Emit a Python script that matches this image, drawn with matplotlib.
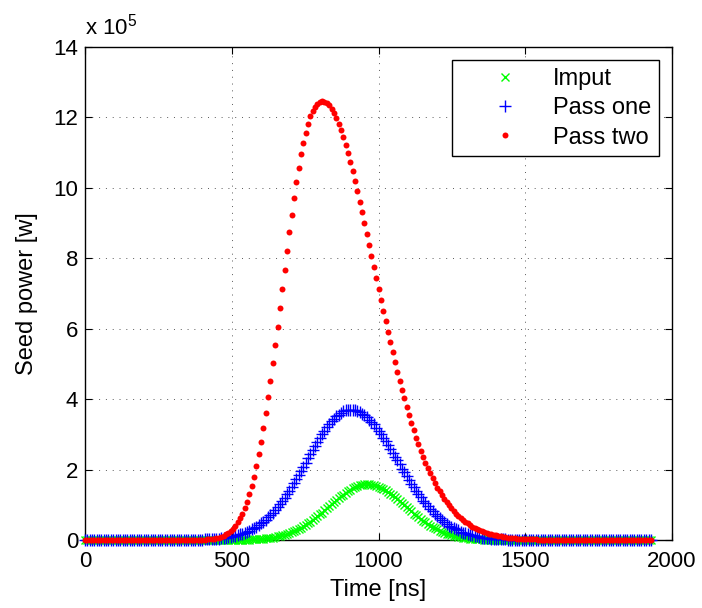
import numpy as np
import matplotlib
matplotlib.use("Agg")
import matplotlib.pyplot as plt

# ---------------------------------------------------------------------------
# data: seed power (in units of 1e5 W), one sample every 8 ns
# each row below = 10 samples = 80 ns, comment gives the start time
# ---------------------------------------------------------------------------
time_ns = np.arange(0, 1929, 8)

imput = [
    0, 0, 0, 0, 0, 0, 0, 0, 0, 0,                                  # 0
    0, 0, 0, 0, 0, 0, 0, 0, 0, 0,                                  # 80
    0, 0, 0, 0, 0, 0, 0, 0, 0, 0,                                  # 160
    0, 0, 0, 0, 0, 0, 0, 0, 0, 0,                                  # 240
    0, 0, 0, 0, 0, 0, 0, 0, 0, 0,                                  # 320
    0, 0, 0, 0, 0, 0, 0, 0, 0, 0,                                  # 400
    0, 0, 0, 0, 0, 0, 0.01, 0.01, 0.01, 0.01,                      # 480
    0.01, 0.02, 0.02, 0.02, 0.03, 0.03, 0.04, 0.05, 0.05, 0.06,    # 560
    0.07, 0.09, 0.10, 0.11, 0.13, 0.15, 0.17, 0.19, 0.22, 0.25,    # 640
    0.28, 0.31, 0.35, 0.39, 0.43, 0.47, 0.52, 0.57, 0.62, 0.67,    # 720
    0.73, 0.78, 0.84, 0.90, 0.96, 1.02, 1.08, 1.13, 1.19, 1.24,    # 800
    1.29, 1.34, 1.39, 1.43, 1.47, 1.50, 1.53, 1.55, 1.56, 1.58,    # 880
    1.58, 1.58, 1.57, 1.56, 1.54, 1.51, 1.48, 1.45, 1.41, 1.37,    # 960
    1.32, 1.27, 1.22, 1.16, 1.10, 1.05, 0.99, 0.93, 0.87, 0.81,    # 1040
    0.75, 0.70, 0.65, 0.59, 0.54, 0.50, 0.45, 0.41, 0.37, 0.33,    # 1120
    0.30, 0.26, 0.23, 0.21, 0.18, 0.16, 0.14, 0.12, 0.11, 0.09,    # 1200
    0.08, 0.07, 0.06, 0.05, 0.04, 0.04, 0.03, 0.03, 0.02, 0.02,    # 1280
    0.01, 0.01, 0.01, 0.01, 0.01, 0.01, 0, 0, 0, 0,                # 1360
    0, 0, 0, 0, 0, 0, 0, 0, 0, 0,                                  # 1440
    0, 0, 0, 0, 0, 0, 0, 0, 0, 0,                                  # 1520
    0, 0, 0, 0, 0, 0, 0, 0, 0, 0,                                  # 1600
    0, 0, 0, 0, 0, 0, 0, 0, 0, 0,                                  # 1680
    0, 0, 0, 0, 0, 0, 0, 0, 0, 0,                                  # 1760
    0, 0, 0, 0, 0, 0, 0, 0, 0, 0,                                  # 1840
    0, 0,                                                          # 1920
]

pass_one = [
    0, 0, 0, 0, 0, 0, 0, 0, 0, 0,                                  # 0
    0, 0, 0, 0, 0, 0, 0, 0, 0, 0,                                  # 80
    0, 0, 0, 0, 0, 0, 0, 0, 0, 0,                                  # 160
    0, 0, 0, 0, 0, 0, 0, 0, 0, 0,                                  # 240
    0, 0, 0, 0, 0, 0, 0.01, 0.01, 0.01, 0.01,                      # 320
    0.01, 0.02, 0.02, 0.02, 0.03, 0.03, 0.04, 0.04, 0.05, 0.06,    # 400
    0.07, 0.08, 0.09, 0.10, 0.12, 0.14, 0.16, 0.18, 0.20, 0.23,    # 480
    0.26, 0.30, 0.33, 0.37, 0.42, 0.47, 0.52, 0.58, 0.64, 0.71,    # 560
    0.78, 0.85, 0.93, 1.02, 1.11, 1.20, 1.30, 1.40, 1.51, 1.62,    # 640
    1.73, 1.84, 1.96, 2.08, 2.20, 2.32, 2.44, 2.56, 2.67, 2.79,    # 720
    2.90, 3.00, 3.10, 3.20, 3.29, 3.37, 3.44, 3.51, 3.56, 3.61,    # 800
    3.65, 3.68, 3.69, 3.70, 3.70, 3.68, 3.66, 3.63, 3.59, 3.54,    # 880
    3.49, 3.42, 3.35, 3.28, 3.19, 3.10, 3.01, 2.91, 2.81, 2.70,    # 960
    2.59, 2.48, 2.37, 2.26, 2.15, 2.03, 1.92, 1.81, 1.71, 1.60,    # 1040
    1.50, 1.40, 1.30, 1.21, 1.12, 1.04, 0.96, 0.88, 0.81, 0.74,    # 1120
    0.68, 0.62, 0.56, 0.51, 0.46, 0.41, 0.37, 0.33, 0.30, 0.27,    # 1200
    0.24, 0.21, 0.19, 0.17, 0.15, 0.13, 0.11, 0.10, 0.09, 0.07,    # 1280
    0.06, 0.06, 0.05, 0.04, 0.04, 0.03, 0.03, 0.02, 0.02, 0.02,    # 1360
    0.01, 0.01, 0.01, 0.01, 0.01, 0.01, 0, 0, 0, 0,                # 1440
    0, 0, 0, 0, 0, 0, 0, 0, 0, 0,                                  # 1520
    0, 0, 0, 0, 0, 0, 0, 0, 0, 0,                                  # 1600
    0, 0, 0, 0, 0, 0, 0, 0, 0, 0,                                  # 1680
    0, 0, 0, 0, 0, 0, 0, 0, 0, 0,                                  # 1760
    0, 0, 0, 0, 0, 0, 0, 0, 0, 0,                                  # 1840
    0, 0,                                                          # 1920
]

pass_two = [
    0, 0, 0, 0, 0, 0, 0, 0, 0, 0,                                  # 0
    0, 0, 0, 0, 0, 0, 0, 0, 0, 0,                                  # 80
    0, 0, 0, 0, 0, 0, 0, 0, 0, 0,                                  # 160
    0, 0, 0, 0, 0, 0, 0, 0, 0, 0,                                  # 240
    0, 0, 0, 0, 0, 0, 0, 0, 0, 0,                                  # 320
    0.01, 0.01, 0.02, 0.02, 0.03, 0.04, 0.05, 0.07, 0.09, 0.12,    # 400
    0.16, 0.20, 0.26, 0.32, 0.40, 0.50, 0.62, 0.75, 0.91, 1.09,    # 480
    1.30, 1.53, 1.80, 2.10, 2.43, 2.79, 3.18, 3.60, 4.05, 4.52,    # 560
    5.02, 5.53, 6.06, 6.60, 7.14, 7.68, 8.22, 8.74, 9.23, 9.71,    # 640
    10.16, 10.57, 10.95, 11.28, 11.57, 11.82, 12.03, 12.19, 12.31, 12.39,  # 720
    12.44, 12.46, 12.45, 12.42, 12.35, 12.25, 12.13, 11.99, 11.82, 11.64,  # 800
    11.44, 11.22, 10.98, 10.73, 10.47, 10.19, 9.91, 9.61, 9.31, 9.01,  # 880
    8.70, 8.39, 8.07, 7.76, 7.44, 7.13, 6.82, 6.51, 6.21, 5.91,    # 960
    5.62, 5.33, 5.05, 4.78, 4.52, 4.26, 4.02, 3.78, 3.55, 3.33,    # 1040
    3.12, 2.91, 2.72, 2.54, 2.36, 2.20, 2.04, 1.89, 1.75, 1.62,    # 1120
    1.49, 1.38, 1.27, 1.17, 1.07, 0.98, 0.90, 0.82, 0.75, 0.68,    # 1200
    0.62, 0.57, 0.51, 0.47, 0.42, 0.38, 0.35, 0.31, 0.28, 0.25,    # 1280
    0.23, 0.20, 0.18, 0.16, 0.15, 0.13, 0.12, 0.10, 0.09, 0.08,    # 1360
    0.07, 0.06, 0.06, 0.05, 0.04, 0.04, 0.03, 0.03, 0.03, 0.02,    # 1440
    0.02, 0.02, 0.02, 0.01, 0.01, 0.01, 0.01, 0.01, 0.01, 0.01,    # 1520
    0.01, 0, 0, 0, 0, 0, 0, 0, 0, 0,                               # 1600
    0, 0, 0, 0, 0, 0, 0, 0, 0, 0,                                  # 1680
    0, 0, 0, 0, 0, 0, 0, 0, 0, 0,                                  # 1760
    0, 0, 0, 0, 0, 0, 0, 0, 0, 0,                                  # 1840
    0, 0,                                                          # 1920
]

x_ticks = [0, 500, 1000, 1500, 2000]
y_ticks = [0, 2, 4, 6, 8, 10, 12, 14]

# ---------------------------------------------------------------------------
# style (matlab-ish)
# ---------------------------------------------------------------------------
plt.rcParams["font.family"] = ["Liberation Sans", "DejaVu Sans"]
plt.rcParams["mathtext.default"] = "regular"
FS_TICK = 16
FS = 17

fig = plt.figure(figsize=(7.02, 6.08), dpi=100)
ax = fig.add_axes([85 / 702, 68 / 608, 587 / 702, 493 / 608])

ax.plot(time_ns, imput, "x", color=(0, 1, 0), ms=5.5, mew=1.0,
        label="Imput", zorder=3, clip_on=False)
ax.plot(time_ns, pass_one, "+", color=(0, 0, 1), ms=8.5, mew=1.0,
        label="Pass one", zorder=3, clip_on=False)
ax.plot(time_ns, pass_two, "o", color=(1, 0, 0), ms=4.3, mew=0,
        label="Pass two", zorder=3, clip_on=False)

ax.set_xlim(0, 2000)
ax.set_ylim(0, 14)
ax.set_xticks(x_ticks)
ax.set_yticks(y_ticks)
ax.tick_params(direction="in", top=True, right=True, length=5, width=0.8,
               labelsize=FS_TICK)
ax.tick_params(axis="x", pad=8)
ax.tick_params(axis="y", pad=5)
for sp in ax.spines.values():
    sp.set_linewidth(1.0)

ax.grid(True, color="0.35", linestyle=(0, (1, 6)), linewidth=0.7)
ax.set_axisbelow(True)

ax.set_xlabel("Time [ns]", fontsize=FS, labelpad=5)
ax.set_ylabel("Seed power [w]", fontsize=FS, labelpad=11)
ax.text(0.0, 1.026, r"x 10$^{5}$", transform=ax.transAxes,
        fontsize=16, ha="left", va="baseline")

leg = ax.legend(loc="upper right", fontsize=FS, fancybox=False,
                framealpha=1, edgecolor="black", borderaxespad=0.55,
                borderpad=0.335, handlelength=3.82, handletextpad=0.12,
                labelspacing=0.31)
leg.get_frame().set_linewidth(1.0)

fig.savefig("out.png", dpi=100)
